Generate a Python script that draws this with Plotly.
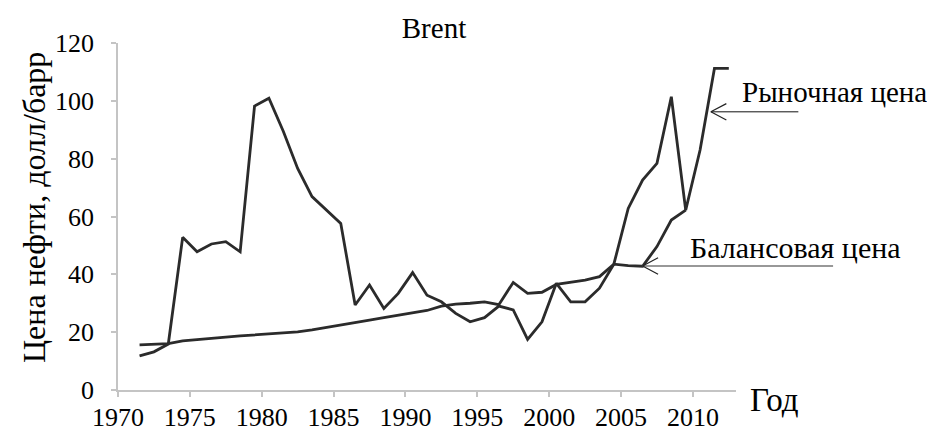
import plotly.graph_objects as go

years = list(range(1971, 2013))
market_price = [11.8, 13.2, 15.9, 52.8, 47.8, 50.5, 51.3, 47.8, 98.2, 100.9,
                89.5, 76.6, 66.9, 62.2, 57.6, 29.4, 36.3, 28.2, 33.4, 40.6,
                32.8, 30.5, 26.5, 23.6, 25.0, 29.0, 27.7, 17.5, 23.6, 36.9,
                30.5, 30.5, 35.2, 43.5, 62.8, 72.6, 78.4, 101.4, 62.2, 83.0,
                111.2, 111.2]
balance_price = [15.6, 15.8, 16.0, 17.0, 17.5, 17.9, 18.3, 18.7, 19.1, 19.5,
                 19.8, 20.1, 20.8, 21.7, 22.6, 23.4, 24.2, 25.0, 25.8, 26.6,
                 27.5, 29.0, 29.7, 30.0, 30.5, 29.5, 37.2, 33.4, 33.8, 36.5,
                 37.3, 38.0, 39.2, 43.5, 43.0, 42.8, 49.6, 58.8, 62.2]
x_tick_labels = ["1970", "1975", "1980", "1985", "1990", "1995", "2000", "2005", "2010"]
y_ticks = [0, 20, 40, 60, 80, 100, 120]

FONT = "Liberation Serif, Times New Roman, serif"
LINE = "#2b2b2b"
AXIS = "#c4c4c4"

# page body adds an 8px offset; figure is sized so that it fits the window
W, H = 927, 425

fig = go.Figure()
fig.add_trace(go.Scatter(x=years, y=market_price, mode="lines",
                         line=dict(color=LINE, width=2.8), name="Рыночная цена"))
fig.add_trace(go.Scatter(x=years[:len(balance_price)], y=balance_price, mode="lines",
                         line=dict(color=LINE, width=2.8), name="Балансовая цена"))

fig.update_layout(
    width=W, height=H,
    margin=dict(l=110, r=199, t=35, b=43, autoexpand=False),
    paper_bgcolor="white", plot_bgcolor="white",
    showlegend=False,
    font=dict(family=FONT, color="black", size=24),
    title=dict(text="Brent", x=(426 / W), xanchor="center", y=1 - 20 / H, yanchor="middle",
               font=dict(family=FONT, size=29, color="black"), automargin=False),
)
fig.update_xaxes(
    range=[1969.5, 2012.5], automargin=False,
    tickvals=[int(t) - 0.5 for t in x_tick_labels], ticktext=x_tick_labels,
    showgrid=False, zeroline=False,
    showline=True, linecolor=AXIS, linewidth=1.5,
    ticks="outside", ticklen=5, tickcolor=AXIS, tickwidth=1.5,
    ticklabelstandoff=-2,
    tickfont=dict(family=FONT, size=26, color="black"),
)
fig.update_yaxes(
    range=[0, 120], tickvals=y_ticks, automargin=False,
    showgrid=False, zeroline=False,
    showline=True, linecolor=AXIS, linewidth=1.5,
    ticks="outside", ticklen=5, tickcolor=AXIS, tickwidth=1.5,
    ticklabelstandoff=12,
    tickfont=dict(family=FONT, size=26, color="black"),
)

# Axis titles and labels (paper coords relative to plot area 618x347)
fig.add_annotation(text="Цена нефти, долл/барр", xref="paper", yref="paper",
                   x=(34 - 118) / 618, y=(390 - 208) / 347, xanchor="center", yanchor="middle",
                   textangle=-90, showarrow=False, font=dict(family=FONT, size=32, color="black"))
fig.add_annotation(text="Рыночная цена", xref="paper", yref="paper",
                   x=(740 - 118) / 618, y=(390 - 92) / 347, xanchor="left", yanchor="middle",
                   showarrow=False, font=dict(family=FONT, size=29, color="black"))
fig.add_annotation(text="Балансовая цена", xref="paper", yref="paper",
                   x=(688 - 118) / 618, y=(390 - 247) / 347, xanchor="left", yanchor="middle",
                   showarrow=False, font=dict(family=FONT, size=30, color="black"))
fig.add_annotation(text="Год", xref="paper", yref="paper",
                   x=(748 - 118) / 618, y=(390 - 400) / 347, xanchor="left", yanchor="middle",
                   showarrow=False, font=dict(family=FONT, size=33, color="black"))

# Arrows: shaft plus two thin arms forming an open "<" head
def add_arrow(x, y, length, color, width):
    fig.add_annotation(text="", x=x, y=y, xref="x", yref="y", ax=length, ay=0,
                       axref="pixel", ayref="pixel", showarrow=True, arrowhead=0,
                       arrowwidth=width, arrowcolor=color)
    for dy in (-9, 9):
        fig.add_annotation(text="", x=x, y=y, xref="x", yref="y", ax=17, ay=dy,
                           axref="pixel", ayref="pixel", showarrow=True, arrowhead=0,
                           arrowwidth=1.2, arrowcolor="#222222")

add_arrow(2010.75, 96.2, 89, "#111111", 1.0)
add_arrow(2006.0, 42.9, 192, "#777777", 1.5)

fig.write_html("out.html")
